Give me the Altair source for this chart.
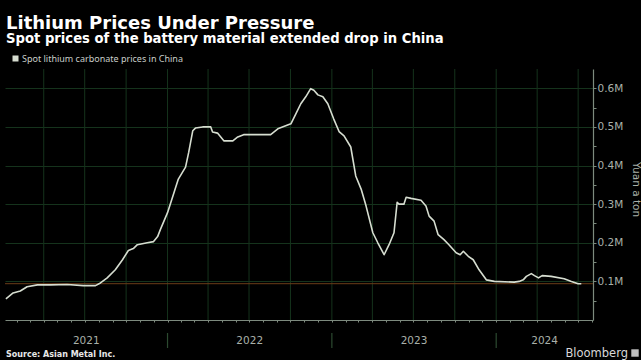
import altair as alt
import pandas as pd

# ---------------- data ----------------
dates = [
    "2021-01-07", "2021-01-23", "2021-02-08", "2021-02-23", "2021-03-18", "2021-04-16",
    "2021-05-23", "2021-06-28", "2021-07-25", "2021-08-05", "2021-08-20", "2021-09-07",
    "2021-09-23", "2021-10-06", "2021-10-17", "2021-10-26", "2021-11-17", "2021-12-01",
    "2021-12-10", "2021-12-16", "2022-01-01", "2022-01-14", "2022-01-25", "2022-02-10",
    "2022-02-17", "2022-02-26", "2022-03-04", "2022-03-20", "2022-04-07", "2022-04-11",
    "2022-04-22", "2022-05-06", "2022-05-26", "2022-06-06", "2022-06-19", "2022-08-18",
    "2022-09-03", "2022-10-02", "2022-10-13", "2022-10-24", "2022-11-04", "2022-11-15",
    "2022-11-22", "2022-12-01", "2022-12-12", "2022-12-23", "2023-01-05", "2023-01-17",
    "2023-01-28", "2023-02-12", "2023-02-23", "2023-03-07", "2023-03-18", "2023-04-02",
    "2023-04-13", "2023-04-27", "2023-05-08", "2023-05-19", "2023-05-26", "2023-05-30",
    "2023-06-10", "2023-06-15", "2023-06-26", "2023-07-18", "2023-07-29", "2023-08-05",
    "2023-08-16", "2023-08-25", "2023-09-07", "2023-09-18", "2023-10-04", "2023-10-13",
    "2023-10-20", "2023-10-31", "2023-11-11", "2023-11-24", "2023-12-10", "2023-12-28",
    "2024-02-10", "2024-02-21", "2024-03-01", "2024-03-08", "2024-03-19", "2024-03-26",
    "2024-04-04", "2024-04-12", "2024-05-02", "2024-05-31", "2024-06-16", "2024-07-01",
    "2024-07-08",
]
prices_m = [  # million yuan per ton
    0.055, 0.070, 0.075, 0.086, 0.091, 0.091,
    0.092, 0.089, 0.089, 0.096, 0.109, 0.130,
    0.156, 0.180, 0.185, 0.195, 0.200, 0.203,
    0.216, 0.234, 0.278, 0.325, 0.365, 0.396,
    0.434, 0.490, 0.497, 0.500, 0.500, 0.487,
    0.484, 0.464, 0.464, 0.474, 0.480, 0.480,
    0.495, 0.508, 0.534, 0.560, 0.578, 0.599,
    0.595, 0.583, 0.578, 0.560, 0.521, 0.488,
    0.477, 0.448, 0.373, 0.339, 0.295, 0.226,
    0.200, 0.169, 0.195, 0.226, 0.305, 0.300,
    0.300, 0.318, 0.315, 0.310, 0.295, 0.269,
    0.256, 0.221, 0.208, 0.195, 0.174, 0.169,
    0.178, 0.165, 0.156, 0.130, 0.104, 0.100,
    0.098, 0.100, 0.104, 0.113, 0.120, 0.115,
    0.109, 0.115, 0.113, 0.107, 0.100, 0.094,
    0.094,
]
series_name = "Spot lithium carbonate prices in China"
year_labels = ["2021", "2022", "2023", "2024"]
y_tick_values = [0.05, 0.1, 0.15, 0.2, 0.25, 0.3, 0.35, 0.4, 0.45, 0.5, 0.55, 0.6]
x_domain = ["2021-01-05", "2024-08-03"]
y_domain = [0, 0.65]

title_text = "Lithium Prices Under Pressure"
subtitle_text = "Spot prices of the battery material extended drop in China"
source_text = "Source: Asian Metal Inc."
brand_text = "Bloomberg"
y_title = "Yuan a ton"

# ---------------- styling ----------------
W, H = 588, 251
BG = "#000000"
GRID = "#15331c"
SEP = "#2c4a30"
AXIS = "#7d8a7e"
LINE = "#d6ddd0"
LAST = "#6a3c18"
LABEL = "#a9b0a9"
FONT = "DejaVu Sans"

# ---------------- derived tables ----------------
df = pd.DataFrame({"date": pd.to_datetime(dates), "price": prices_m, "series": series_name})

x0, x1 = pd.Timestamp(x_domain[0]), pd.Timestamp(x_domain[1])
yrs = []
for y in year_labels:
    s = max(pd.Timestamp(f"{y}-01-01"), x0)
    e = min(pd.Timestamp(f"{int(y) + 1}-01-01"), x1)
    yrs.append({"date": s + (e - s) / 2, "label": y})
years_df = pd.DataFrame(yrs)
sep_df = pd.DataFrame({"date": [pd.Timestamp(f"{y}-01-01") for y in year_labels[1:]]})
quarters_df = pd.DataFrame({"date": pd.date_range("2021-04-01", "2024-07-01", freq="QS")})
month_ticks = [alt.DateTime(year=d.year, month=d.month, date=1)
               for d in pd.date_range("2021-02-01", "2024-08-01", freq="MS")]
last_df = df.tail(1)

xscale = alt.Scale(domain=[alt.DateTime(year=x0.year, month=x0.month, date=x0.day),
                           alt.DateTime(year=x1.year, month=x1.month, date=x1.day)])
yscale = alt.Scale(domain=y_domain, nice=False)

major = "round(datum.value*20) % 2 === 0"

x_axis = alt.Axis(values=month_ticks, labels=False, title=None, grid=False,
                  tickSize=2, tickColor=AXIS, domainColor=AXIS, domainWidth=1.2)
y_axis = alt.Axis(orient="right", values=y_tick_values, title=y_title,
                  labelExpr=f"{major} ? format(datum.value, '.1f') + 'M' : ''",
                  grid=True, gridColor=GRID, gridWidth=1,
                  gridOpacity={"condition": {"test": major, "value": 1}, "value": 0},
                  tickSize=3, tickColor=AXIS, domainColor=AXIS, domainWidth=1.2,
                  labelColor=LABEL, labelFont=FONT, labelFontSize=10.5, labelPadding=1,
                  titleColor=LABEL, titleFont=FONT, titleFontSize=10.5,
                  titleFontWeight="normal", titleAngle=90, titleAlign="center",
                  titleBaseline="middle", titleX=42, titleY=120)

X = alt.X("date:T", scale=xscale, axis=x_axis)
Y = alt.Y("price:Q", scale=yscale, axis=y_axis)

grid_v = alt.Chart(quarters_df).mark_rule(color=GRID, strokeWidth=1).encode(
    x=X, y=alt.value(0), y2=alt.value(H),
)

last_rule = alt.Chart(last_df).mark_rule(color=LAST, strokeWidth=1).encode(
    y=Y, x=alt.value(0), x2=alt.value(W),
)

line = alt.Chart(df).mark_line(strokeWidth=1.6, strokeJoin="round").encode(
    x=X, y=Y,
    color=alt.Color("series:N", scale=alt.Scale(range=[LINE]),
                    legend=alt.Legend(orient="none", legendX=6, legendY=-15, title=None,
                                      symbolType="square", symbolSize=9, symbolStrokeWidth=3,
                                      labelColor="#c9cec9", labelFont="Noto Sans",
                                      labelFontSize=9, labelOffset=2, labelLimit=0,
                                      padding=0)),
)

year_text = alt.Chart(years_df).mark_text(color=LABEL, font=FONT, fontSize=10.5, baseline="middle").encode(
    x=X, y=alt.value(H + 21), text="label:N",
)

year_sep = alt.Chart(sep_df).mark_rule(color=SEP, strokeWidth=1.2).encode(
    x=X, y=alt.value(H + 13), y2=alt.value(H + 28),
)

source = alt.Chart(pd.DataFrame({"t": [source_text]})).mark_text(
    color="#e8e8e8", font=FONT, fontSize=8, fontWeight="bold", align="left", baseline="alphabetic"
).encode(x=alt.value(1), y=alt.value(H + 37), text="t:N")

brand = alt.Chart(pd.DataFrame({"t": [brand_text]})).mark_text(
    color="#d8d8d8", font=FONT, fontSize=11.5, align="right", baseline="alphabetic"
).encode(x=alt.value(W + 35), y=alt.value(H + 37), text="t:N")

brand_icon = alt.Chart(pd.DataFrame({"t": [brand_text]})).mark_square(
    color="#bfbfbf", size=55, opacity=1
).encode(x=alt.value(W + 42), y=alt.value(H + 33))

chart = alt.layer(grid_v, last_rule, line, year_sep, year_text, source, brand, brand_icon).properties(
    width=W, height=H,
    background=BG,
    padding={"left": 5, "top": 69, "right": 48, "bottom": 40},
    autosize=alt.AutoSizeParams(type="none"),
    title=alt.TitleParams(
        text=title_text, subtitle=subtitle_text, anchor="start", frame="group", dx=1,
        offset=9, font=FONT, fontSize=18, fontWeight="bold", color="#ffffff",
        subtitleFont=FONT, subtitleFontSize=13.2, subtitleFontWeight="bold",
        subtitleColor="#ffffff", subtitlePadding=0,
    ),
).configure_view(stroke=None).configure_axis(labelOverlap=False)

chart.save("out.html", embed_options={"renderer": "svg", "actions": False})
